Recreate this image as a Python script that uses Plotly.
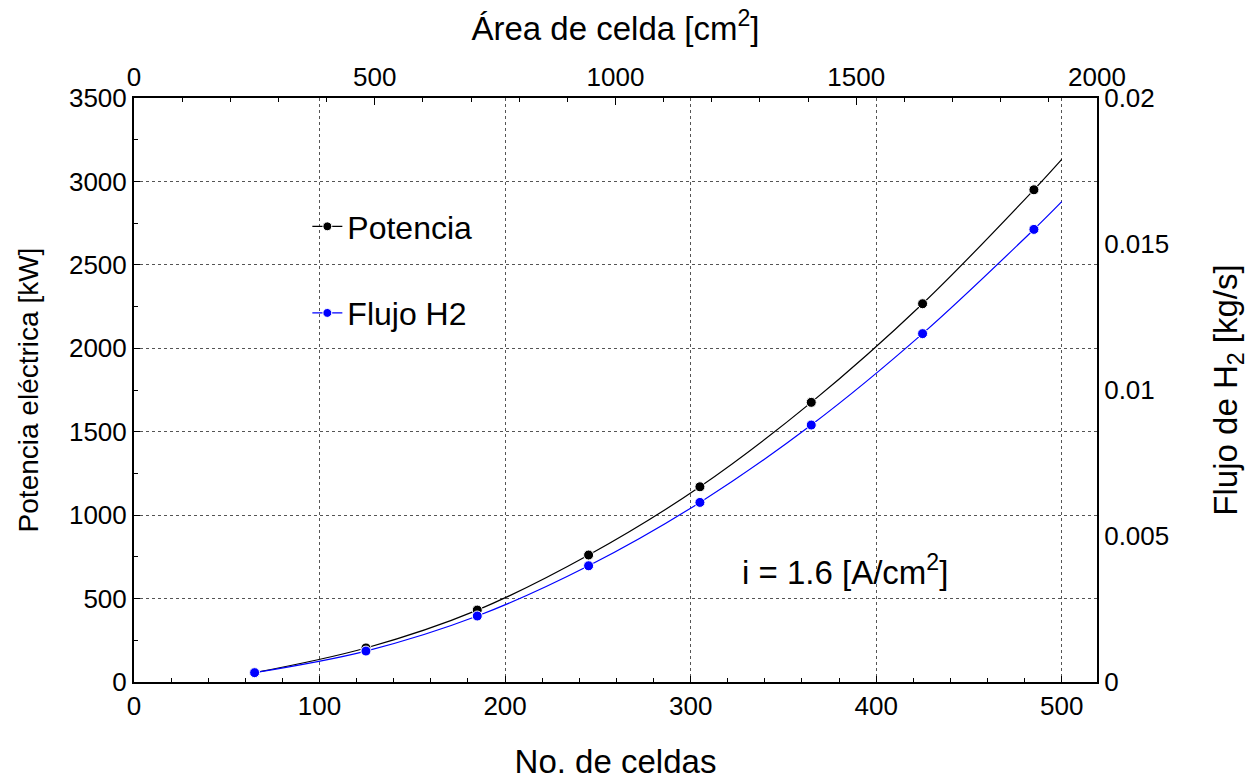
import plotly.graph_objects as go

# ---- data ----
celdas = [65, 125, 185, 245, 305, 365, 425, 485]
potencia_kw = [56, 204, 431, 761, 1170, 1676, 2267, 2950]
flujo_h2 = [0.00032, 0.00106, 0.00226, 0.00398, 0.00615, 0.0088, 0.01193, 0.0155]

# fitted-curve end point (curve drawn up to 500 cells)
celdas_fin = 500
potencia_fin = 3132
flujo_fin = 0.01645

x_ticks_bottom = [0, 100, 200, 300, 400, 500]
x_ticks_top = [0, 500, 1000, 1500, 2000]
y_ticks_left = [0, 500, 1000, 1500, 2000, 2500, 3000, 3500]
y_ticks_right = [0, 0.005, 0.01, 0.015, 0.02]
y_ticks_right_text = ["0", "0.005", "0.01", "0.015", "0.02"]

FONT = "Liberation Sans, Arial, sans-serif"
TICKF = dict(family=FONT, size=26, color="black")
TITLEF_BIG = dict(family=FONT, size=33, color="black")
TITLEF_LEFT = dict(family=FONT, size=28, color="black")

xs = celdas + [celdas_fin]
sizes = [10] * len(celdas) + [0]

fig = go.Figure()
fig.add_trace(go.Scatter(
    x=xs, y=potencia_kw + [potencia_fin], name="Potencia",
    mode="lines+markers", line=dict(color="black", width=1.2, shape="spline"),
    marker=dict(color="black", size=sizes, opacity=1, line=dict(color="white", width=1)),
    legendgroup="a", xaxis="x", yaxis="y",
))
fig.add_trace(go.Scatter(
    x=xs, y=flujo_h2 + [flujo_fin], name="Flujo H2",
    mode="lines+markers", line=dict(color="#0000ff", width=1.2, shape="spline"),
    marker=dict(color="#0000ff", size=sizes, opacity=1, line=dict(color="white", width=1)),
    legendgroup="b", xaxis="x", yaxis="y2",
))
# invisible trace so the top (area) axis is drawn
fig.add_trace(go.Scatter(
    x=[0, 2000], y=[0, 0], mode="markers", marker=dict(opacity=0),
    showlegend=False, hoverinfo="skip", xaxis="x2", yaxis="y",
))

fig.update_layout(
    width=1253, height=780,
    margin=dict(l=134, r=156, t=98, b=98, autoexpand=False),
    paper_bgcolor="white", plot_bgcolor="white",
    font=dict(family=FONT, color="black"),
    showlegend=True,
    legend=dict(x=0.18, y=0.827, xanchor="left", yanchor="top",
                bgcolor="rgba(0,0,0,0)", font=dict(family=FONT, size=32, color="black"),
                tracegroupgap=42, traceorder="grouped"),
    xaxis=dict(
        range=[0, 519], tickvals=x_ticks_bottom, tickfont=TICKF, automargin=False,
        title=dict(text="No. de celdas", font=TITLEF_BIG, standoff=38),
        showline=True, linecolor="black", linewidth=2, mirror=False,
        ticks="inside", ticklen=6, tickcolor="black",
        minor=dict(dtick=20, ticks="inside", ticklen=4, tickcolor="black", showgrid=False),
        showgrid=True, gridcolor="#555", griddash="dot", gridwidth=1, zeroline=False,
    ),
    xaxis2=dict(
        overlaying="x", side="top", range=[0, 2000], tickvals=x_ticks_top, tickfont=TICKF,
        automargin=False,
        title=dict(text="Área de celda [cm<sup>2</sup>]", font=TITLEF_BIG, standoff=11),
        showline=True, linecolor="black", linewidth=2,
        ticks="inside", ticklen=7, tickcolor="black",
        minor=dict(dtick=100, ticks="inside", ticklen=4, tickcolor="black", showgrid=False),
        showgrid=False, zeroline=False,
    ),
    yaxis=dict(
        range=[0, 3500], tickvals=y_ticks_left, tickfont=TICKF, automargin=False,
        title=dict(text="Potencia eléctrica [kW]", font=TITLEF_LEFT, standoff=22),
        showline=True, linecolor="black", linewidth=2,
        ticks="inside", ticklen=6, tickcolor="black",
        minor=dict(dtick=250, ticks="inside", ticklen=4, tickcolor="black", showgrid=False),
        showgrid=True, gridcolor="#555", griddash="dot", gridwidth=1, zeroline=False,
    ),
    yaxis2=dict(
        overlaying="y", side="right", range=[0, 0.02], tickvals=y_ticks_right,
        ticktext=y_ticks_right_text, tickfont=TICKF, automargin=False,
        title=dict(text="Flujo de H<sub>2</sub> [kg/s]", font=TITLEF_BIG, standoff=46),
        showline=True, linecolor="black", linewidth=2,
        ticks="", showgrid=False, zeroline=False,
    ),
    annotations=[dict(
        x=383, y=671, xref="x", yref="y", text="i = 1.6 [A/cm<sup>2</sup>]",
        showarrow=False, font=dict(family=FONT, size=33, color="black"),
    )],
)

fig.write_html("out.html")
